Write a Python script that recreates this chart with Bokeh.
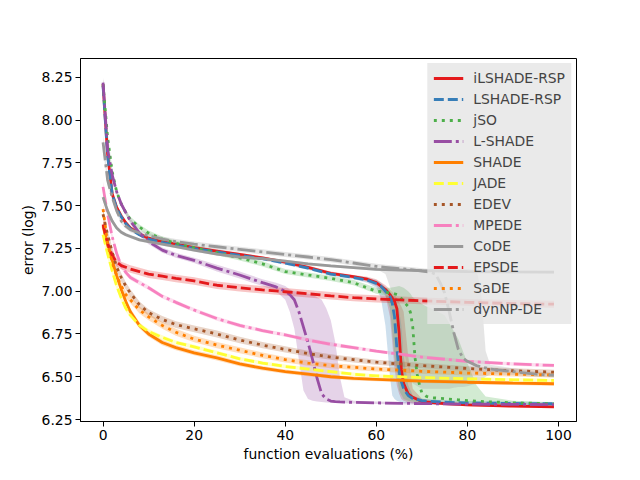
from bokeh.plotting import figure
from bokeh.models import Range1d, FixedTicker, NumeralTickFormatter, Legend, LegendItem
from bokeh.embed import file_html
from bokeh.resources import INLINE

# ---------------- data ----------------
X_BASE = [0, 1, 2, 3, 4, 5, 6, 8, 10, 13, 16, 20, 25, 30, 35, 40, 45, 50, 55, 60, 70, 80, 90, 99]

# iLSHADE-RSP
ilshade_x = [0, 1, 2, 3, 4, 5, 6, 8, 10, 13, 16, 20, 25, 30, 35, 40, 45, 50, 55, 58, 60, 62, 63, 64, 64.5, 65, 65.5, 66, 67, 68, 70, 75, 80, 90, 99]
ilshade_y = [8.21, 7.80, 7.57, 7.49, 7.44, 7.40, 7.37, 7.335, 7.31, 7.29, 7.275, 7.255, 7.235, 7.215, 7.195, 7.17, 7.14, 7.105, 7.085, 7.07, 7.05, 7.01, 6.98, 6.94, 6.90, 6.76, 6.54, 6.46, 6.40, 6.38, 6.355, 6.343, 6.336, 6.328, 6.324]
ilshade_lo = [8.18, 7.78, 7.55, 7.475, 7.43, 7.39, 7.36, 7.325, 7.30, 7.28, 7.265, 7.245, 7.225, 7.205, 7.185, 7.16, 7.13, 7.095, 7.075, 7.055, 7.03, 6.975, 6.85, 6.55, 6.45, 6.40, 6.37, 6.36, 6.35, 6.345, 6.34, 6.334, 6.328, 6.322, 6.319]
ilshade_hi = [8.24, 7.82, 7.59, 7.505, 7.45, 7.41, 7.38, 7.345, 7.32, 7.30, 7.285, 7.265, 7.245, 7.225, 7.205, 7.18, 7.15, 7.115, 7.095, 7.085, 7.07, 7.035, 7.01, 6.98, 6.96, 6.935, 6.91, 6.88, 6.62, 6.43, 6.372, 6.352, 6.342, 6.334, 6.329]

# LSHADE-RSP
lrsp_x = [0, 1, 2, 3, 4, 5, 6, 8, 10, 13, 16, 20, 25, 30, 35, 40, 45, 50, 55, 58, 60, 61, 62, 63, 63.5, 64, 64.5, 65, 65.5, 66, 67, 68, 70, 75, 80, 90, 99]
lrsp_y = [8.20, 7.79, 7.57, 7.485, 7.435, 7.395, 7.365, 7.33, 7.305, 7.285, 7.27, 7.25, 7.23, 7.21, 7.19, 7.165, 7.135, 7.10, 7.08, 7.065, 7.045, 7.03, 7.0, 6.97, 6.93, 6.85, 6.67, 6.53, 6.47, 6.43, 6.39, 6.373, 6.36, 6.351, 6.347, 6.344, 6.342]
lrsp_lo = [8.17, 7.77, 7.55, 7.47, 7.425, 7.385, 7.355, 7.32, 7.295, 7.275, 7.26, 7.24, 7.22, 7.20, 7.18, 7.155, 7.125, 7.09, 7.07, 7.05, 7.02, 6.96, 6.80, 6.50, 6.39, 6.37, 6.36, 6.355, 6.35, 6.348, 6.345, 6.343, 6.34, 6.337, 6.335, 6.333, 6.332]
lrsp_hi = [8.23, 7.81, 7.59, 7.50, 7.445, 7.405, 7.375, 7.34, 7.315, 7.295, 7.28, 7.26, 7.24, 7.22, 7.20, 7.175, 7.145, 7.11, 7.09, 7.08, 7.065, 7.05, 7.025, 7.0, 6.98, 6.96, 6.93, 6.89, 6.80, 6.62, 6.45, 6.39, 6.372, 6.362, 6.358, 6.355, 6.352]

# jSO
jso_x = [0, 1, 2, 3, 4, 5, 6, 8, 10, 13, 16, 20, 25, 30, 35, 40, 45, 50, 55, 60, 62, 63, 64, 65, 66, 67, 67.5, 68, 68.5, 69, 69.5, 70, 71, 72, 75, 78, 80, 82, 84, 90, 99]
jso_y = [8.21, 7.90, 7.70, 7.58, 7.51, 7.46, 7.42, 7.375, 7.34, 7.305, 7.28, 7.255, 7.225, 7.195, 7.16, 7.115, 7.095, 7.075, 7.05, 7.0, 6.995, 6.99, 6.985, 6.975, 6.94, 6.91, 6.875, 6.79, 6.61, 6.51, 6.45, 6.405, 6.385, 6.378, 6.372, 6.365, 6.36, 6.357, 6.354, 6.348, 6.342]
jso_lo = [8.18, 7.87, 7.68, 7.565, 7.495, 7.445, 7.405, 7.36, 7.325, 7.29, 7.265, 7.24, 7.21, 7.18, 7.145, 7.10, 7.08, 7.06, 7.035, 6.985, 6.975, 6.90, 6.62, 6.42, 6.37, 6.36, 6.357, 6.355, 6.353, 6.352, 6.351, 6.35, 6.348, 6.347, 6.345, 6.343, 6.342, 6.341, 6.34, 6.338, 6.334]
jso_hi = [8.24, 7.93, 7.72, 7.595, 7.525, 7.475, 7.435, 7.39, 7.355, 7.32, 7.295, 7.27, 7.24, 7.21, 7.175, 7.13, 7.11, 7.09, 7.065, 7.02, 7.02, 7.02, 7.025, 7.03, 7.02, 7.0, 6.985, 6.965, 6.955, 6.945, 6.935, 6.925, 6.91, 6.9, 6.86, 6.72, 6.58, 6.45, 6.385, 6.36, 6.35]

# L-SHADE
lsh_x = [0, 1, 2, 3, 4, 5, 6, 8, 10, 13, 16, 20, 25, 30, 35, 38, 40, 41, 42, 43, 44, 45, 46, 47, 48, 49, 50, 51, 52, 53, 55, 60, 70, 80, 99]
lsh_y = [8.22, 7.83, 7.68, 7.58, 7.51, 7.46, 7.41, 7.34, 7.29, 7.24, 7.21, 7.18, 7.135, 7.095, 7.05, 7.025, 7.0, 6.98, 6.95, 6.88, 6.79, 6.70, 6.60, 6.49, 6.40, 6.37, 6.358, 6.355, 6.353, 6.352, 6.35, 6.347, 6.343, 6.34, 6.337]
lsh_lo = [8.19, 7.80, 7.66, 7.565, 7.495, 7.445, 7.395, 7.325, 7.275, 7.225, 7.195, 7.165, 7.115, 7.075, 7.03, 7.0, 6.95, 6.88, 6.78, 6.60, 6.42, 6.37, 6.36, 6.355, 6.352, 6.35, 6.348, 6.347, 6.346, 6.345, 6.343, 6.34, 6.337, 6.334, 6.331]
lsh_hi = [8.25, 7.86, 7.70, 7.595, 7.525, 7.475, 7.425, 7.355, 7.305, 7.255, 7.225, 7.195, 7.155, 7.115, 7.07, 7.05, 7.03, 7.01, 7.0, 6.995, 6.99, 6.985, 6.98, 6.965, 6.95, 6.9, 6.83, 6.7, 6.5, 6.38, 6.36, 6.355, 6.35, 6.347, 6.343]

# smooth series on X_BASE
shade_y = [7.38, 7.27, 7.18, 7.09, 7.01, 6.94, 6.88, 6.80, 6.75, 6.70, 6.67, 6.64, 6.61, 6.575, 6.55, 6.53, 6.515, 6.50, 6.49, 6.485, 6.475, 6.468, 6.463, 6.459]
shade_sd = [0.03, 0.03, 0.03, 0.025, 0.02, 0.02, 0.02, 0.018, 0.016, 0.016, 0.015, 0.015, 0.015, 0.014, 0.013, 0.013, 0.012, 0.012, 0.012, 0.011, 0.011, 0.011, 0.011, 0.011]
jade_y = [7.33, 7.22, 7.12, 7.03, 6.96, 6.90, 6.86, 6.80, 6.765, 6.73, 6.70, 6.675, 6.64, 6.605, 6.58, 6.56, 6.545, 6.53, 6.515, 6.505, 6.495, 6.488, 6.482, 6.478]
jade_sd = [0.03, 0.03, 0.025, 0.02, 0.02, 0.018, 0.016, 0.015, 0.014, 0.013, 0.012, 0.012, 0.012, 0.011, 0.011, 0.011, 0.01, 0.01, 0.01, 0.01, 0.01, 0.01, 0.01, 0.01]
edev_y = [7.45, 7.33, 7.23, 7.14, 7.08, 7.03, 6.99, 6.92, 6.875, 6.835, 6.805, 6.78, 6.75, 6.715, 6.685, 6.66, 6.635, 6.615, 6.60, 6.585, 6.565, 6.548, 6.535, 6.527]
edev_sd = [0.03, 0.03, 0.03, 0.025, 0.025, 0.022, 0.022, 0.02, 0.02, 0.02, 0.02, 0.02, 0.02, 0.019, 0.018, 0.018, 0.017, 0.016, 0.016, 0.015, 0.015, 0.014, 0.014, 0.014]
mpede_y = [7.61, 7.45, 7.32, 7.22, 7.15, 7.11, 7.08, 7.05, 7.02, 6.97, 6.935, 6.89, 6.84, 6.80, 6.77, 6.745, 6.715, 6.69, 6.67, 6.65, 6.615, 6.59, 6.575, 6.566]
mpede_sd = [0.03, 0.025, 0.02, 0.02, 0.018, 0.016, 0.015, 0.014, 0.013, 0.012, 0.012, 0.012, 0.012, 0.012, 0.011, 0.011, 0.011, 0.011, 0.011, 0.01, 0.01, 0.01, 0.01, 0.01]
code_y = [7.55, 7.47, 7.41, 7.37, 7.345, 7.33, 7.32, 7.30, 7.29, 7.275, 7.26, 7.24, 7.217, 7.2, 7.19, 7.176, 7.16, 7.148, 7.138, 7.128, 7.12, 7.115, 7.113, 7.112]
code_sd = [0.025, 0.02, 0.015, 0.012, 0.01, 0.01, 0.01, 0.01, 0.009, 0.009, 0.009, 0.009, 0.008, 0.008, 0.008, 0.008, 0.008, 0.008, 0.008, 0.008, 0.008, 0.008, 0.008, 0.008]
epsde_y = [7.39, 7.28, 7.21, 7.17, 7.15, 7.14, 7.13, 7.115, 7.10, 7.088, 7.075, 7.06, 7.035, 7.02, 7.008, 6.997, 6.985, 6.973, 6.962, 6.955, 6.944, 6.935, 6.928, 6.924]
epsde_sd = [0.03, 0.03, 0.025, 0.025, 0.022, 0.022, 0.022, 0.022, 0.022, 0.022, 0.022, 0.022, 0.022, 0.022, 0.022, 0.022, 0.022, 0.022, 0.021, 0.021, 0.02, 0.02, 0.02, 0.02]
sade_y = [7.48, 7.28, 7.17, 7.09, 7.03, 6.98, 6.95, 6.89, 6.85, 6.80, 6.76, 6.72, 6.685, 6.655, 6.625, 6.60, 6.58, 6.565, 6.555, 6.545, 6.532, 6.522, 6.515, 6.51]
sade_sd = [0.03, 0.03, 0.028, 0.025, 0.022, 0.02, 0.02, 0.02, 0.02, 0.02, 0.02, 0.019, 0.018, 0.018, 0.017, 0.016, 0.016, 0.015, 0.015, 0.015, 0.014, 0.014, 0.014, 0.014]

# dynNP-DE
dyn_x = [0, 1, 2, 3, 4, 5, 6, 8, 10, 13, 16, 20, 25, 30, 35, 40, 45, 50, 55, 60, 62, 64, 66, 68, 70, 72, 73, 74, 75, 76, 77, 78, 79, 80, 82, 83, 84, 85, 90, 95, 99]
dyn_y = [7.87, 7.65, 7.55, 7.47, 7.41, 7.38, 7.36, 7.34, 7.325, 7.305, 7.29, 7.275, 7.26, 7.245, 7.23, 7.215, 7.2, 7.185, 7.165, 7.145, 7.14, 7.135, 7.13, 7.125, 7.118, 7.11, 7.10, 7.05, 6.99, 6.88, 6.76, 6.66, 6.61, 6.59, 6.565, 6.558, 6.552, 6.545, 6.53, 6.515, 6.508]
dyn_lo = [7.83, 7.62, 7.53, 7.455, 7.395, 7.365, 7.345, 7.325, 7.31, 7.29, 7.275, 7.26, 7.245, 7.23, 7.215, 7.2, 7.185, 7.17, 7.15, 7.13, 7.10, 6.95, 6.65, 6.46, 6.43, 6.43, 6.43, 6.43, 6.43, 6.43, 6.435, 6.44, 6.44, 6.445, 6.46, 6.48, 6.5, 6.515, 6.51, 6.5, 6.495]
dyn_hi = [7.91, 7.68, 7.57, 7.485, 7.425, 7.395, 7.375, 7.355, 7.34, 7.32, 7.305, 7.29, 7.275, 7.26, 7.245, 7.23, 7.215, 7.2, 7.18, 7.16, 7.155, 7.15, 7.145, 7.14, 7.135, 7.13, 7.13, 7.13, 7.13, 7.13, 7.13, 7.13, 7.13, 7.13, 7.125, 7.0, 6.65, 6.57, 6.55, 6.53, 6.522]

LABELS = ["iLSHADE-RSP", "LSHADE-RSP", "jSO", "L-SHADE", "SHADE", "JADE", "EDEV", "MPEDE", "CoDE", "EPSDE", "SaDE", "dynNP-DE"]
X_TICKS = [0, 20, 40, 60, 80, 100]
Y_TICKS = [6.25, 6.50, 6.75, 7.00, 7.25, 7.50, 7.75, 8.00, 8.25]

# ---------------- styles ----------------
RED, BLUE, GREEN, PURPLE = "#e41a1c", "#377eb8", "#4daf4a", "#984ea3"
ORANGE, YELLOW, BROWN, PINK, GREY = "#ff7f00", "#ffff33", "#a65628", "#f781bf", "#999999"
SOLID, DASH, DOT, DASHDOT = "solid", "10 4", "3 5", "18 4 3 4"


def sym(y, sd):
    return [a - b for a, b in zip(y, sd)], [a + b for a, b in zip(y, sd)]


series = []
series.append((ilshade_x, ilshade_y, ilshade_lo, ilshade_hi, RED, SOLID))
series.append((lrsp_x, lrsp_y, lrsp_lo, lrsp_hi, BLUE, DASH))
series.append((jso_x, jso_y, jso_lo, jso_hi, GREEN, DOT))
series.append((lsh_x, lsh_y, lsh_lo, lsh_hi, PURPLE, DASHDOT))
for y, sd, c, d in [(shade_y, shade_sd, ORANGE, SOLID), (jade_y, jade_sd, YELLOW, DASH),
                    (edev_y, edev_sd, BROWN, DOT), (mpede_y, mpede_sd, PINK, DASHDOT),
                    (code_y, code_sd, GREY, SOLID), (epsde_y, epsde_sd, RED, DASH),
                    (sade_y, sade_sd, ORANGE, DOT)]:
    lo, hi = sym(y, sd)
    series.append((X_BASE, y, lo, hi, c, d))
series.append((dyn_x, dyn_y, dyn_lo, dyn_hi, GREY, DASHDOT))

FONT = "DejaVu Sans"
FS = "13.9px"

p = figure(width=624, height=464, output_backend="svg", toolbar_location=None,
           x_range=Range1d(-4.95, 103.95), y_range=Range1d(6.2384, 8.3605),
           min_border_left=80, min_border_right=48, min_border_top=58, min_border_bottom=41)
p.background_fill_color = "white"
p.border_fill_color = "white"
p.outline_line_color = "black"
p.outline_line_width = 1
p.outline_line_alpha = 1
p.xgrid.visible = False
p.ygrid.visible = False

for x, y, lo, hi, c, d in series:
    p.varea(x=x, y1=lo, y2=hi, fill_color=c, fill_alpha=0.25)

items = []
for (x, y, lo, hi, c, d), lab in zip(series, LABELS):
    r = p.line(x, y, line_color=c, line_width=2.8, line_dash=d)
    items.append(LegendItem(label=lab, renderers=[r]))

for ax in (p.xaxis[0], p.yaxis[0]):
    ax.major_tick_out = 5
    ax.major_tick_in = 0
    ax.minor_tick_out = 0
    ax.minor_tick_in = 0
    ax.axis_line_color = "black"
    ax.major_tick_line_color = "black"
    ax.major_label_text_font = FONT
    ax.major_label_text_font_size = FS
    ax.major_label_text_color = "black"
    ax.axis_label_text_font = FONT
    ax.axis_label_text_font_size = FS
    ax.axis_label_text_font_style = "normal"
    ax.axis_label_text_color = "black"
    ax.major_label_standoff = 3

p.xaxis.ticker = FixedTicker(ticks=X_TICKS)
p.yaxis.ticker = FixedTicker(ticks=Y_TICKS)
p.yaxis.formatter = NumeralTickFormatter(format="0.00")
p.xaxis.axis_label = "function evaluations (%)"
p.yaxis.axis_label = "error (log)"
p.xaxis.axis_label_standoff = 3
p.yaxis.axis_label_standoff = 3

legend = Legend(items=items, location="top_right")
legend.label_text_font = FONT
legend.label_text_font_size = FS
legend.background_fill_color = "#e5e5e5"
legend.background_fill_alpha = 0.8
legend.border_line_alpha = 0
legend.padding = 6
legend.margin = 5
legend.spacing = 3
legend.glyph_width = 30
legend.glyph_height = 18
legend.label_height = 18
legend.label_standoff = 10
p.add_layout(legend)

open("out.html", "w").write(file_html(p, INLINE))
